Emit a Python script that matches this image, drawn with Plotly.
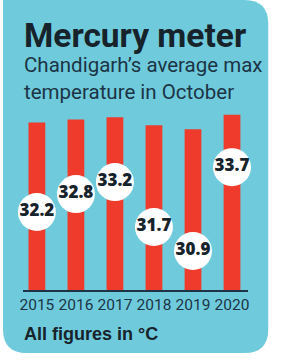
import plotly.graph_objects as go

# ---- data ----
years = ["2015", "2016", "2017", "2018", "2019", "2020"]
max_temp = [32.2, 32.8, 33.2, 31.7, 30.9, 33.7]
title_text = "Mercury meter"
subtitle_text = "Chandigarh’s average max<br>temperature in October"
footer_text = "All figures in °C"

# ---- styling ----
W, H = 284, 362
BLUE = "#6FCBDC"
RED = "#EE3B2B"
DARK = "#17232b"
NAVY = "#1c3445"

def px(x):
    return x / W

def py(y):
    return 1 - y / H

# bubble heights derived from values (decorative exaggerated scale)
bubble_y = [7.5 + (v - 30.9) * 5.76 for v in max_temp]
labels = [f"{v:.1f}" for v in max_temp]

fig = go.Figure()
fig.add_trace(go.Bar(
    x=years, y=max_temp, marker=dict(color=RED, line=dict(width=0)),
    width=0.43, hoverinfo="skip",
))
fig.add_trace(go.Scatter(
    x=years, y=bubble_y, mode="markers+text", text=labels,
    textposition="middle center",
    marker=dict(size=38, color="white", line=dict(width=0)),
    textfont=dict(family="Open Sans", size=17, color=DARK, weight=800),
    cliponaxis=False, hoverinfo="skip",
))

# rounded panel
r = 24
R, B = 270, 353
path = (f"M {px(0)},{py(0)} L {px(R - r)},{py(0)} Q {px(R)},{py(0)} {px(R)},{py(r)} "
        f"L {px(R)},{py(B - r)} Q {px(R)},{py(B)} {px(R - r)},{py(B)} "
        f"L {px(r)},{py(B)} Q {px(0)},{py(B)} {px(0)},{py(B - r)} Z")
shapes = [dict(type="path", path=path, xref="paper", yref="paper",
               fillcolor=BLUE, line=dict(width=0), layer="below")]

annotations = [
    dict(text=f"<b>{title_text}</b>", x=px(19), y=py(36), xref="paper", yref="paper",
         xanchor="left", yanchor="middle", showarrow=False,
         font=dict(family="Roboto", size=33.5, color=DARK, weight=900)),
    dict(text=subtitle_text, x=px(19), y=py(79), xref="paper", yref="paper",
         xanchor="left", yanchor="middle", showarrow=False, align="left",
         font=dict(family="Roboto", size=20.5, color=NAVY)),
    dict(text=f"<b>{footer_text}</b>", x=px(19), y=py(334), xref="paper", yref="paper",
         xanchor="left", yanchor="middle", showarrow=False,
         font=dict(family="Liberation Sans", size=18, color=DARK)),
]

fig.update_layout(
    width=W, height=H, margin=dict(l=0, r=0, t=0, b=0),
    paper_bgcolor="white", plot_bgcolor="rgba(0,0,0,0)",
    showlegend=False, shapes=shapes, annotations=annotations,
    xaxis=dict(domain=[px(20), px(249)], range=[-0.365, 5.4], type="category",
               showgrid=False, zeroline=False, showline=True, linecolor=NAVY,
               linewidth=1.5, ticks="", tickfont=dict(family="Roboto", size=15.5, color=NAVY),
               fixedrange=True),
    yaxis=dict(domain=[py(290), py(100)], range=[0, 190 / 5.2], visible=False,
               fixedrange=True),
)

fig.write_html("out.html")
